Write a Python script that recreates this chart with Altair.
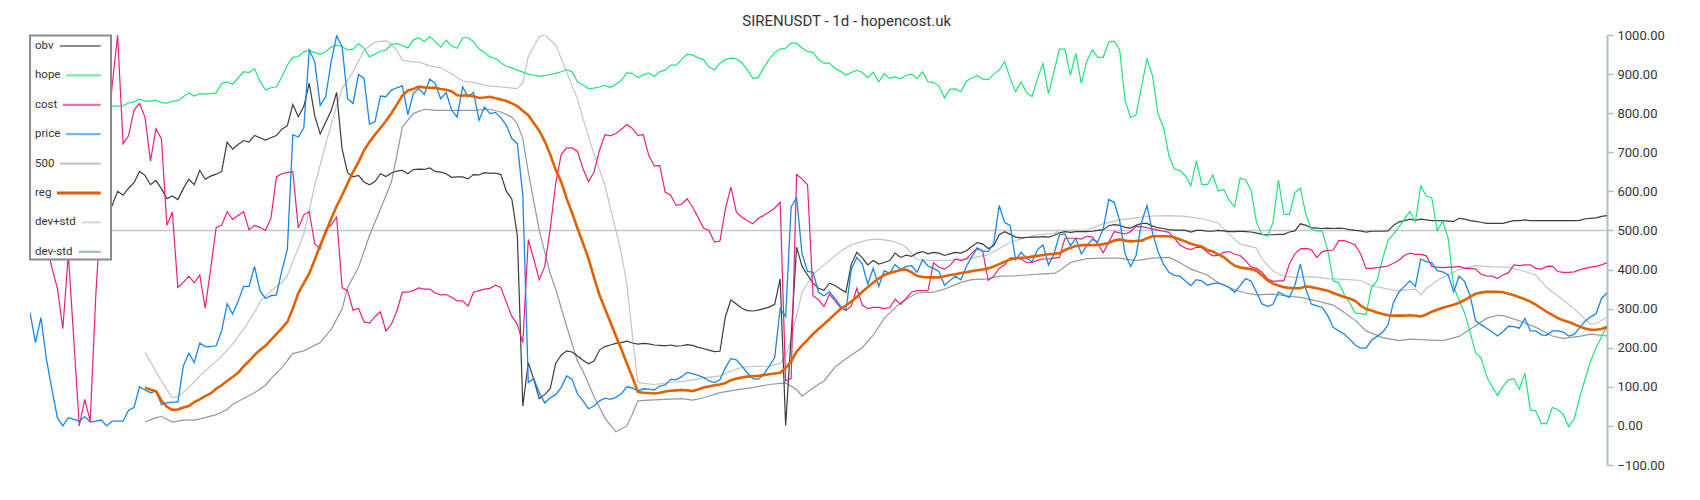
import altair as alt
import pandas as pd

TITLE = "SIRENUSDT - 1d - hopencost.uk"

# ---------------- data ----------------
price_start = 0
price = [290,213,277,171,94,21,0,21,17,12,24,10,12,15,0,12,12,12,40,47,100,92,85,89,55,59,61,61,153,186,162,212,203,203,205,243,312,286,318,357,357,408,346,326,333,335,397,452,745,
         739,762,961,932,820,842,932,998,970,837,825,899,889,772,778,844,842,859,865,870,796,850,863,848,887,876,837,853,808,790,867,842,853,782,816,799,802,788,769,735,722,590,111,121,85,59,72,80,
         98,128,119,81,64,44,51,64,71,68,73,82,100,97,90,95,94,92,102,105,119,118,126,137,134,129,124,115,111,118,149,172,169,153,136,121,119,132,153,175,300,280,560,583,440,395,393,342,333,
         343,326,307,295,401,431,414,363,403,357,397,390,413,400,408,410,393,425,409,403,395,360,372,383,374,408,433,455,448,446,467,564,520,513,425,444,429,420,451,463,412,440,489,491,461,480,440,461,
         477,471,504,579,572,525,440,408,436,521,564,494,446,414,393,385,383,371,359,374,371,360,364,366,361,354,342,359,377,370,342,312,306,311,342,335,329,360,414,350,312,307,303,282,252,243,235,222,207,
         199,199,219,229,239,258,316,342,357,371,357,427,420,417,397,394,386,343,383,369,333,269,259,250,241,230,241,255,254,250,275,243,243,233,232,243,243,240,230,234,251,268,279,287,326,340]

cost_start = 3
cost = [470,405,352,249,440,220,0,68,12,330,560,720,870,1000,
        722,742,808,825,790,677,760,735,513,547,354,367,383,366,386,301,403,508,513,548,528,538,548,502,513,508,500,531,637,645,648,651,
        506,540,548,466,453,502,514,534,354,346,296,301,266,263,280,292,243,260,294,342,342,346,353,350,350,340,335,336,329,320,320,307,342,346,350,352,360,354,316,280,260,213,477,427,374,408,504,620,
        694,711,711,702,658,625,649,705,745,742,748,759,771,761,743,745,692,665,666,598,590,564,567,581,560,534,506,500,470,473,555,611,547,534,525,517,531,538,547,557,572,115,121,643,632,617,333,323,305,
        337,320,303,295,307,352,309,300,303,303,300,303,324,311,326,342,346,346,346,417,406,401,410,427,423,427,442,455,446,372,383,403,412,430,429,427,418,418,424,427,427,429,431,480,480,480,478,485,
        483,466,443,470,497,494,491,497,510,510,507,504,501,498,495,480,463,455,451,457,456,444,435,436,444,446,439,436,423,406,403,393,376,370,371,371,414,440,453,454,451,431,446,449,450,474,474,469,463,
        440,403,403,405,407,409,416,424,436,442,439,439,435,408,406,405,406,406,408,403,403,401,388,384,383,377,386,392,412,410,412,412,403,401,408,409,395,393,393,394,399,403,406,408,412,417]

hope_start = 14
hope = [818,818,818,819,826,829,836,831,831,833,827,826,831,832,842,852,844,850,849,850,852,876,880,874,890,906,904,914,882,859,865,867,893,923,943,
        945,957,961,955,951,957,969,974,970,962,964,978,966,944,951,959,961,976,978,973,967,987,993,983,996,983,969,987,972,966,993,993,983,964,955,944,940,929,920,916,910,905,900,897,895,896,899,902,
        906,911,906,880,872,863,864,867,871,866,874,884,903,902,891,898,903,894,906,910,923,923,937,951,949,942,937,918,911,928,937,941,939,929,911,889,891,916,938,955,964,966,979,979,967,958,955,937,928,
        928,915,907,897,904,910,904,891,905,880,901,889,893,888,897,900,889,906,880,879,870,839,861,862,855,882,890,896,887,886,900,910,932,889,855,880,853,842,889,927,850,906,964,964,897,953,876,933,
        962,943,943,982,984,962,832,789,796,868,939,896,798,765,691,657,653,640,614,
        678,617,617,642,601,605,577,560,634,629,603,520,490,486,520,629,541,541,597,608,541,503,499,499,449,371,366,336,315,289,
        287,285,355,371,426,475,490,509,529,548,523,614,588,584,500,524,480,355,322,289,240,187,174,127,101,78,101,118,120,94,
        135,41,38,6,6,47,42,30,-2,17,72,120,165,200,228,255]

obv_start = 14
obv = [545,564,600,590,608,622,651,641,617,628,607,581,588,579,607,631,617,654,631,639,644,651,726,708,720,730,726,743,737,731,737,743,759,768,822,
       791,817,877,793,747,777,806,853,708,648,637,641,624,617,625,645,638,647,652,654,645,656,657,656,660,651,649,645,636,637,637,632,643,642,648,646,647,643,600,580,487,51,162,119,70,80,95,160,
       181,192,189,179,168,159,166,194,203,207,211,213,217,212,209,211,210,207,206,205,207,204,205,208,206,201,198,194,190,191,280,322,312,301,295,294,296,300,304,311,376,1,228,457,408,386,365,352,347,
       365,359,350,342,414,444,430,412,423,414,418,423,442,431,437,434,442,446,440,444,442,436,440,444,442,448,459,469,465,454,461,489,497,490,483,481,482,483,483,484,483,487,494,497,495,497,497,497,
       498,500,502,512,515,513,508,506,513,518,518,511,507,505,502,501,501,500,496,500,500,498,498,500,499,497,497,498,497,496,493,490,489,489,490,490,496,499,517,513,507,506,505,506,505,506,505,502,500,
       499,496,498,498,498,499,513,522,525,529,526,529,527,525,525,525,524,523,531,529,525,523,521,518,518,518,518,522,525,525,527,525,525,525,525,525,525,525,525,525,526,530,531,532,536,538]

reg_start = 21
reg = [98,93,89,65,49,41,42,47,51,61,68,76,83,95,104,115,125,136,152,166,181,194,205,220,235,250,
       266,300,340,365,390,425,462,495,530,562,590,620,650,675,705,726,745,762,780,800,822,845,858,862,868,866,865,865,862,860,856,846,845,846,843,839,840,842,838,835,831,825,818,806,795,775,755,728,695,655,
       625,582,545,505,467,428,380,335,300,265,230,196,160,125,87,85,84,83,85,88,90,91,92,91,89,93,98,101,104,106,110,117,121,124,126,127,128,130,132,134,136,148,165,190,206,220,235,248,260,
       273,286,299,308,318,330,343,355,367,377,386,391,395,399,400,393,384,381,380,380,380,383,386,388,391,393,396,398,400,403,408,414,420,426,429,430,431,433,435,437,439,440,442,450,455,460,462,463,
       462,463,465,468,474,477,474,472,473,474,480,485,485,485,485,482,477,472,466,462,459,450,446,439,432,420,410,405,403,401,397,385,372,364,359,355,353,352,352,357,355,352,349,346,340,335,330,326,320,
       308,299,295,290,286,283,282,282,282,283,282,280,285,292,297,302,306,310,315,322,330,338,341,343,343,343,342,338,334,329,324,318,310,301,292,284,276,270,266,260,254,249,246,246,248,253]

upper_idx = [21,24,26,27,29,31,33,35,37,39,41,42,44,46,47,48,50,52,54,56,57,59,61,63,65,66,67,68,70,71,
             73,75,77,79,81,83,86,89,90,91,93,94,96,98,100,101,103,105,107,108,109,110,111,112,114,117,120,123,126,128,
             130,132,135,137,138,139,141,143,145,148,150,153,155,157,159,160,161,162,165,168,172,175,177,179,182,184,187,188,190,193,
             196,199,202,205,208,211,214,217,219,221,224,225,227,229,231,234,237,240,243,245,248,250,253,254,255,258,261,264,267,270,
             273,275,277,280,282,283,285,286,288]
upper_val = [188,115,72,75,98,128,153,179,209,247,290,318,346,367,385,420,491,615,720,820,863,906,961,982,985,976,960,935,931,931,
             921,916,900,882,879,871,867,863,878,945,995,1000,975,905,836,786,696,615,500,440,362,234,112,109,106,111,115,123,128,140,
             150,152,153,160,179,222,342,388,412,446,463,476,478,474,466,457,440,425,423,424,429,438,453,470,483,489,492,500,500,501,
             517,527,532,537,538,536,530,519,490,465,455,427,396,383,380,382,377,375,372,359,350,346,350,335,352,380,400,410,407,406,
             395,386,354,322,300,286,260,262,278]

lower_idx = [21,23,24,26,28,30,32,34,36,37,39,41,43,44,46,48,50,53,55,57,58,60,62,64,66,67,68,70,72,74,
             78,81,84,86,88,89,90,91,93,95,96,98,100,101,103,105,107,109,110,111,113,116,119,121,123,126,129,132,135,138,
             140,141,143,145,147,149,152,154,156,159,162,165,167,170,172,175,177,180,182,185,187,188,190,193,196,199,202,205,208,210,
             212,215,217,220,222,224,227,229,232,235,238,240,242,244,247,250,252,255,258,261,263,266,268,269,272,275,278,280,283,285,288]
lower_val = [10,21,24,10,15,15,21,29,42,55,70,85,104,121,149,185,192,213,247,299,354,406,487,555,624,692,765,799,810,807,
             807,807,810,803,790,773,735,650,500,390,350,255,165,140,75,20,-15,0,30,64,66,68,70,66,72,85,92,98,106,110,
             93,76,97,115,150,172,200,232,275,316,340,342,350,367,374,376,383,384,386,389,390,397,418,428,429,429,423,429,431,418,
             401,386,366,348,340,335,337,333,329,320,309,290,270,243,226,218,222,220,218,229,247,275,283,282,269,252,230,224,229,235,230]

level_500 = [500]

legend_names = ["obv", "hope", "cost", "price", "500", "reg", "dev+std", "dev-std"]

# ---------------- styling ----------------
C_OBV = "#3c3c3c"
C_HOPE = "#22e07a"
C_COST = "#e91e84"
C_PRICE = "#1a86e6"
C_500 = "#c6c6c6"
C_REG = "#df6200"
C_UP = "#bfc5ca"
C_LO = "#8e9aa2"

legend_colors = ["#8c8c8c", "#7ce9a9", "#ee72b0", "#7ab6ee", "#c6c6c6", "#d86000", "#d6dadd", "#afb7bb"]
legend_widths = [2.2, 2.2, 2.2, 2.2, 2.2, 2.8, 2.2, 2.2]
legend_sw_start = [30, 36, 33, 36, 30, 27, 52, 49]

FONT = "Roboto"
W, H = 1577, 430

x_scale = alt.Scale(domain=[0, 288], nice=False, zero=False)
y_scale = alt.Scale(domain=[-100, 1000], nice=False, zero=False)
y_axis = alt.Axis(orient="right", values=list(range(-100, 1001, 100)), format=".2f", grid=False,
                  domainColor="#b0bec5", domainWidth=2, tickColor="#b0bec5", tickWidth=1.5, tickSize=6,
                  labelColor="#333333", labelFontSize=13, labelFont=FONT, labelPadding=4, title=None)


def seq_df(start, vals):
    return pd.DataFrame({"i": list(range(start, start + len(vals))), "v": vals})


def sparse_df(idx, vals):
    return pd.DataFrame({"i": idx, "v": vals})


def line(df, color, width):
    return alt.Chart(df).mark_line(color=color, strokeWidth=width, clip=True).encode(
        x=alt.X("i:Q", scale=x_scale, axis=None),
        y=alt.Y("v:Q", scale=y_scale, axis=y_axis),
    )


rule500 = alt.Chart(pd.DataFrame({"v": level_500})).mark_rule(color=C_500, strokeWidth=1.6).encode(
    y=alt.Y("v:Q", scale=y_scale, axis=y_axis)
)

layers = [
    rule500,
    line(sparse_df(upper_idx, upper_val), C_UP, 1.2),
    line(sparse_df(lower_idx, lower_val), C_LO, 1.2),
    line(seq_df(obv_start, obv), C_OBV, 1.2),
    line(seq_df(hope_start, hope), C_HOPE, 1.2),
    line(seq_df(cost_start, cost), C_COST, 1.2),
    line(seq_df(price_start, price), C_PRICE, 1.3),
    line(seq_df(reg_start, reg), C_REG, 2.6),
]

one = pd.DataFrame({"a": [0]})
layers.append(
    alt.Chart(one).mark_rect(fill="white", stroke="#8a8a8a", strokeWidth=2).encode(
        x=alt.value(0), x2=alt.value(81), y=alt.value(0.5), y2=alt.value(224.5)
    )
)
for k, name in enumerate(legend_names):
    yy = 11 + k * 29.4
    layers.append(
        alt.Chart(one).mark_rule(color=legend_colors[k], strokeWidth=legend_widths[k]).encode(
            x=alt.value(legend_sw_start[k]), x2=alt.value(70.7), y=alt.value(yy)
        )
    )
    layers.append(
        alt.Chart(one).mark_text(text=name, align="left", baseline="middle", fontSize=11.5,
                                 font=FONT, color="#333333").encode(
            x=alt.value(5), y=alt.value(yy)
        )
    )

chart = alt.layer(*layers).properties(
    width=W, height=H,
    title=alt.TitleParams(text=TITLE, anchor="middle", frame="bounds", fontSize=15, font=FONT,
                          fontWeight="normal", color="#333333", offset=0),
    autosize=alt.AutoSizeParams(type="none"),
    padding={"left": 22, "top": 27, "right": 80, "bottom": 20},
).configure_view(stroke=None)

chart.save("out.html", embed_options={"renderer": "svg", "actions": False})
